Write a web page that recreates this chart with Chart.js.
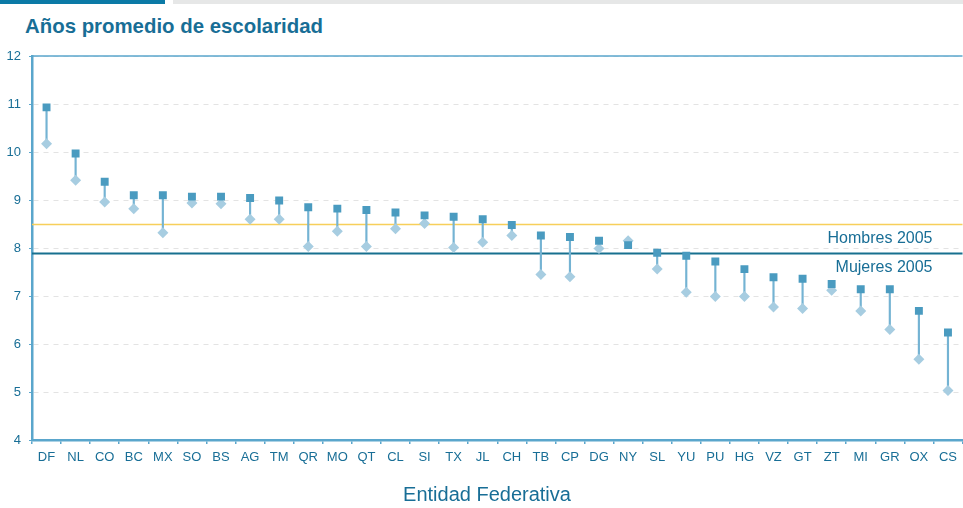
<!DOCTYPE html>
<html>
<head>
<meta charset="utf-8">
<script src="https://cdn.jsdelivr.net/npm/chart.js@4.4.1/dist/chart.umd.min.js"></script>
<style>
  body { margin: 0; background: #fff; font-family: "Liberation Sans", Arial, sans-serif; }
  #wrap { position: relative; width: 963px; height: 508px; overflow: hidden; }
  #barDark { position: absolute; left: 0; top: 0; width: 165px; height: 4px; background: #0b7aa6; }
  #barGray { position: absolute; left: 173px; top: 0; width: 790px; height: 4px; background: #e6e7e7; }
  #title { position: absolute; left: 25px; top: 15px; font-size: 20.4px; font-weight: bold; color: #186e96; white-space: nowrap; }
  #xTitle { position: absolute; left: 337px; width: 300px; top: 483px; text-align: center; font-size: 20px; color: #186e96; }
  canvas { position: absolute; left: 0; top: 0; }
</style>
</head>
<body>
<div id="wrap">
  <div id="barDark"></div>
  <div id="barGray"></div>
  <div id="title">Años promedio de escolaridad</div>
  <canvas id="escolaridadChart" width="963" height="508"></canvas>
  <div id="xTitle">Entidad Federativa</div>
</div>
<script>
// Entidades federativas (ordered by Hombres value)
const estados = ['DF', 'NL', 'CO', 'BC', 'MX', 'SO', 'BS', 'AG', 'TM', 'QR', 'MO', 'QT', 'CL', 'SI', 'TX', 'JL',
    'CH', 'TB', 'CP', 'DG', 'NY', 'SL', 'YU', 'PU', 'HG', 'VZ', 'GT', 'ZT', 'MI', 'GR', 'OX', 'CS'];

const hombres = [10.93, 9.97, 9.38, 9.10, 9.10, 9.07, 9.07, 9.04, 8.99, 8.85, 8.82, 8.79, 8.74, 8.68, 8.65, 8.60,
    8.48, 8.26, 8.23, 8.15, 8.06, 7.90, 7.84, 7.72, 7.56, 7.39, 7.36, 7.25, 7.14, 7.14, 6.69, 6.24];

const mujeres = [10.17, 9.41, 8.96, 8.82, 8.32, 8.94, 8.92, 8.60, 8.60, 8.03, 8.35, 8.03, 8.40, 8.51, 8.01, 8.12,
    8.26, 7.45, 7.40, 7.99, 8.15, 7.56, 7.08, 6.99, 6.99, 6.77, 6.74, 7.12, 6.69, 6.30, 5.68, 5.03];

// Promedio nacional 2005
const promedioValores = [8.5, 7.9];
const promedioEtiquetas = ['Hombres 2005', 'Mujeres 2005'];
const promedioColores = ['#f7cf5a', '#17708f'];

const yTicks = [4, 5, 6, 7, 8, 9, 10, 11, 12];

const azul = '#186e96';

// reference lines + their labels, plus the solid top border
const promedioPlugin = {
    id: 'promedios',
    beforeDatasetsDraw(chart) {
        const { ctx, chartArea, scales } = chart;
        ctx.save();
        promedioValores.forEach((v, i) => {
            const y = Math.round(scales.y.getPixelForValue(v)) + 0.5;
            ctx.strokeStyle = promedioColores[i];
            ctx.lineWidth = i === 0 ? 1.5 : 2;
            ctx.beginPath();
            ctx.moveTo(chartArea.left, y);
            ctx.lineTo(chartArea.right, y);
            ctx.stroke();
            ctx.fillStyle = azul;
            ctx.font = '16px "Liberation Sans", Arial, sans-serif';
            ctx.textAlign = 'right';
            ctx.fillText(promedioEtiquetas[i], chartArea.right - 30, y + 18);
        });
        ctx.strokeStyle = '#5aa6cc';
        ctx.lineWidth = 1.5;
        ctx.beginPath();
        ctx.moveTo(chartArea.left, chartArea.top);
        ctx.lineTo(chartArea.right, chartArea.top);
        ctx.stroke();
        ctx.restore();
    }
};

const ctx = document.getElementById('escolaridadChart').getContext('2d');

const escolaridadChart = new Chart(ctx, {
    type: 'bar',
    data: {
        labels: estados,
        datasets: [
            {
                type: 'line',
                label: 'Hombres',
                data: hombres,
                showLine: false,
                pointStyle: 'rect',
                pointRadius: 5.6,
                pointBackgroundColor: '#4a9bc0',
                pointBorderWidth: 0
            },
            {
                type: 'line',
                label: 'Mujeres',
                data: mujeres,
                showLine: false,
                pointStyle: 'rectRot',
                pointRadius: 5.5,
                pointBackgroundColor: '#a7cde1',
                pointBorderWidth: 0
            },
            {
                type: 'bar',
                label: 'Diferencia',
                data: estados.map((e, i) => [mujeres[i], hombres[i]]),
                backgroundColor: '#74b3d3',
                barThickness: 1.5
            }
        ]
    },
    plugins: [promedioPlugin],
    options: {
        responsive: false,
        animation: false,
        layout: { autoPadding: false, padding: { top: 56, left: 0, right: 0, bottom: 0 } },
        plugins: {
            legend: { display: false },
            tooltip: { enabled: false }
        },
        scales: {
            x: {
                offset: true,
                afterFit: (s) => { s.height = 68; },
                grid: {
                    offset: true,
                    drawOnChartArea: false,
                    tickLength: 4,
                    color: '#5aa6cc',
                    lineWidth: 1.5
                },
                border: { color: '#5aa6cc', width: 2.5 },
                ticks: {
                    color: azul,
                    padding: 6,
                    maxRotation: 0,
                    autoSkip: false,
                    font: { family: '"Liberation Sans", Arial, sans-serif', size: 13 }
                }
            },
            y: {
                min: 4,
                max: 12,
                afterFit: (s) => { s.width = 32; },
                afterBuildTicks: (s) => { s.ticks = yTicks.map(v => ({ value: v })); },
                grid: {
                    color: '#e3e3e3',
                    lineWidth: 1,
                    tickLength: 3,
                    tickColor: '#5aa6cc',
                    tickBorderDash: []
                },
                border: { color: '#5aa6cc', width: 2.5, dash: [5, 5] },
                ticks: {
                    color: azul,
                    padding: 8,
                    font: { family: '"Liberation Sans", Arial, sans-serif', size: 13 }
                }
            }
        }
    }
});
</script>
</body>
</html>
